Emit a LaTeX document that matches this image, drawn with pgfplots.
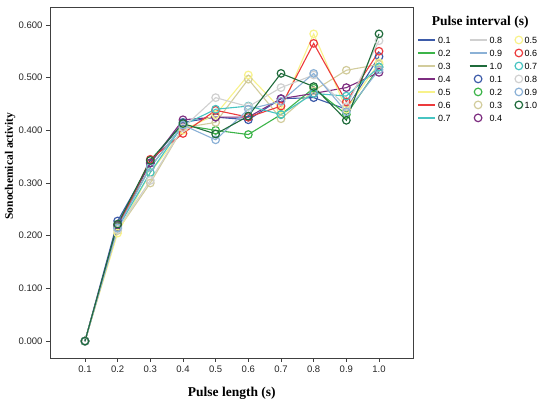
\documentclass[border=0pt]{standalone}
\usepackage{fontspec}
\setmainfont{Liberation Serif}
\setsansfont{Liberation Sans}
\usepackage{pgfplots}
\usepackage{pgfplotstable}
\pgfplotsset{compat=1.18}
\definecolor{c1}{HTML}{3D5BA9}
\definecolor{c2}{HTML}{3CB449}
\definecolor{c3}{HTML}{D2CC9C}
\definecolor{c4}{HTML}{7D2D80}
\definecolor{c5}{HTML}{F8F28A}
\definecolor{c6}{HTML}{EC3A3C}
\definecolor{c7}{HTML}{47C4C2}
\definecolor{c8}{HTML}{D0D0D0}
\definecolor{c9}{HTML}{8BB1D6}
\definecolor{c10}{HTML}{1F6B3B}
\newcommand{\wl}[1]{\makebox[17.5pt][l]{#1}}
\pgfplotsset{
  ln/.style={no marks, line width=1.1pt,
    legend image code/.code={\draw[##1, line width=1.8pt] (0cm,0.05cm) -- (0.6cm,0.05cm);}},
  mk/.style={only marks, mark=o, mark size=3.8pt, mark options={line width=1.2pt},
    legend image code/.code={\draw[##1] plot coordinates {(0.3cm,0.05cm)};}},
}
\pgfplotstableread{
x   s1    s2    s3    s4    s5    s6    s7    s8    s9    s10
0.1 0.000 0.000 0.000 0.000 0.000 0.000 0.000 0.000 0.000 0.000
0.2 0.228 0.218 0.210 0.220 0.205 0.215 0.214 0.212 0.215 0.222
0.3 0.338 0.330 0.300 0.338 0.320 0.345 0.320 0.305 0.330 0.343
0.4 0.415 0.410 0.405 0.420 0.400 0.394 0.410 0.405 0.410 0.413
0.5 0.425 0.400 0.415 0.425 0.430 0.438 0.440 0.462 0.382 0.393
0.6 0.420 0.392 0.497 0.425 0.505 0.425 0.446 0.445 0.440 0.427
0.7 0.460 0.430 0.422 0.460 0.440 0.446 0.430 0.481 0.455 0.508
0.8 0.462 0.480 0.475 0.470 0.583 0.565 0.470 0.505 0.508 0.483
0.9 0.440 0.430 0.514 0.481 0.440 0.454 0.465 0.445 0.435 0.419
1.0 0.540 0.520 0.525 0.510 0.528 0.550 0.520 0.570 0.515 0.583
}\datatable
\begin{document}
\begin{tikzpicture}
\path[use as bounding box] (-50pt,-51pt) rectangle (500pt,358pt);
\begin{axis}[
  at={(0,0)}, anchor=south west,
  scale only axis, width=363pt, height=351pt,
  xmin=-0.007, xmax=1.104, ymin=-0.032, ymax=0.634,
  xtick={0.1,0.2,0.3,0.4,0.5,0.6,0.7,0.8,0.9,1.0}, ytick={0,0.1,0.2,0.3,0.4,0.5,0.6},
  axis line style={draw=black!75, line width=0.8pt},
  tick style={draw=black!75, line width=0.8pt},
  tick align=outside, tick pos=left, major tick length=4pt,
  /pgf/number format/assume math mode=true,
  tick label style={font=\sffamily\fontsize{9.5}{11}\selectfont, text=black!85},
  yticklabel style={/pgf/number format/.cd, fixed, fixed zerofill, precision=3},
  xticklabel style={/pgf/number format/.cd, fixed, fixed zerofill, precision=1},
  xlabel={Pulse length (s)}, ylabel={Sonochemical activity},
  every axis x label/.style={at={(axis description cs:0.501,-0.0997)}, anchor=center, font=\bfseries\fontsize{13.5}{16}\selectfont},
  every axis y label/.style={at={(axis description cs:-0.110,0.547)}, rotate=90, anchor=center, font=\bfseries\fontsize{11.5}{14}\selectfont},
  clip=false,
  legend columns=3,
  legend style={at={(axis description cs:1.003,0.925)}, anchor=north west, draw=none, fill=none,
    font=\sffamily\fontsize{9}{10}\selectfont, row sep=1.2pt,
    /tikz/every even column/.append style={column sep=11pt},
    /tikz/column 4/.append style={column sep=19pt}},
  legend cell align=left,
]
\addplot[color=c1, ln, forget plot] table[x=x,y=s1] {\datatable};
\addplot[color=c2, ln, forget plot] table[x=x,y=s2] {\datatable};
\addplot[color=c3, ln, forget plot] table[x=x,y=s3] {\datatable};
\addplot[color=c4, ln, forget plot] table[x=x,y=s4] {\datatable};
\addplot[color=c5, ln, forget plot] table[x=x,y=s5] {\datatable};
\addplot[color=c6, ln, forget plot] table[x=x,y=s6] {\datatable};
\addplot[color=c7, ln, forget plot] table[x=x,y=s7] {\datatable};
\addplot[color=c8, ln, forget plot] table[x=x,y=s8] {\datatable};
\addplot[color=c9, ln, forget plot] table[x=x,y=s9] {\datatable};
\addplot[color=c10, ln, forget plot] table[x=x,y=s10] {\datatable};
\addplot[color=c1, mk, forget plot] table[x=x,y=s1] {\datatable};
\addplot[color=c2, mk, forget plot] table[x=x,y=s2] {\datatable};
\addplot[color=c3, mk, forget plot] table[x=x,y=s3] {\datatable};
\addplot[color=c4, mk, forget plot] table[x=x,y=s4] {\datatable};
\addplot[color=c5, mk, forget plot] table[x=x,y=s5] {\datatable};
\addplot[color=c6, mk, forget plot] table[x=x,y=s6] {\datatable};
\addplot[color=c7, mk, forget plot] table[x=x,y=s7] {\datatable};
\addplot[color=c8, mk, forget plot] table[x=x,y=s8] {\datatable};
\addplot[color=c9, mk, forget plot] table[x=x,y=s9] {\datatable};
\addplot[color=c10, mk, forget plot] table[x=x,y=s10] {\datatable};
% legend, row-wise: column 1 = lines 0.1-0.7, column 2 = lines 0.8-1.0 + circles 0.1-0.4, column 3 = circles 0.5-1.0
\addlegendimage{color=c1, ln}\addlegendentry{\wl{0.1}}
\addlegendimage{color=c8, ln}\addlegendentry{0.8}
\addlegendimage{color=c5, mk}\addlegendentry{0.5}
\addlegendimage{color=c2, ln}\addlegendentry{\wl{0.2}}
\addlegendimage{color=c9, ln}\addlegendentry{0.9}
\addlegendimage{color=c6, mk}\addlegendentry{0.6}
\addlegendimage{color=c3, ln}\addlegendentry{\wl{0.3}}
\addlegendimage{color=c10, ln}\addlegendentry{1.0}
\addlegendimage{color=c7, mk}\addlegendentry{0.7}
\addlegendimage{color=c4, ln}\addlegendentry{\wl{0.4}}
\addlegendimage{color=c1, mk}\addlegendentry{0.1}
\addlegendimage{color=c8, mk}\addlegendentry{0.8}
\addlegendimage{color=c5, ln}\addlegendentry{\wl{0.5}}
\addlegendimage{color=c2, mk}\addlegendentry{0.2}
\addlegendimage{color=c9, mk}\addlegendentry{0.9}
\addlegendimage{color=c6, ln}\addlegendentry{\wl{0.6}}
\addlegendimage{color=c3, mk}\addlegendentry{0.3}
\addlegendimage{color=c10, mk}\addlegendentry{1.0}
\addlegendimage{color=c7, ln}\addlegendentry{\wl{0.7}}
\addlegendimage{color=c4, mk}\addlegendentry{0.4}
\node[font=\bfseries\fontsize{13.5}{16}\selectfont] at (axis description cs:1.185,0.957) {Pulse interval (s)};
\end{axis}
\end{tikzpicture}
\end{document}
